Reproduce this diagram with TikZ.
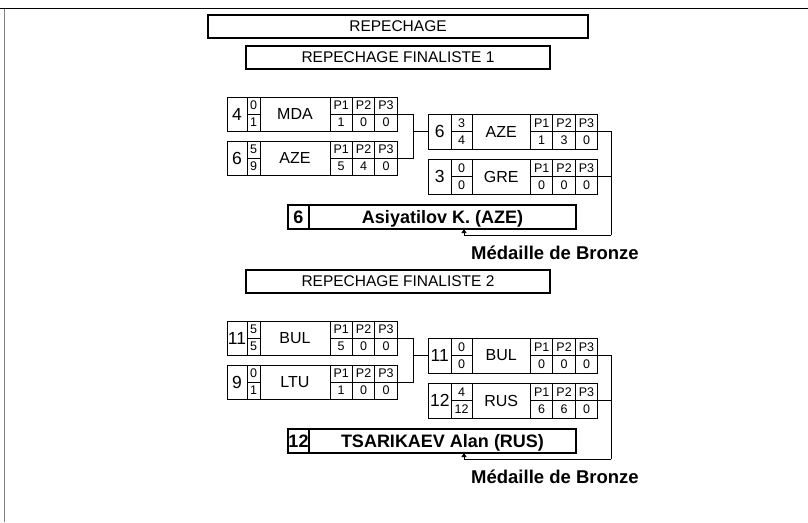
\documentclass[tikz,border=0pt]{standalone}
\usepackage{fontspec}
\setmainfont{Liberation Sans}
\usetikzlibrary{arrows.meta}
\tikzset{
  hdr/.style={draw, line width=1.6pt, inner sep=0pt, outer sep=0pt, anchor=north west, font=\fontsize{15.5}{17}\selectfont},
  mbox/.style={draw, line width=0.9pt, inner sep=0pt, outer sep=0pt, anchor=north west},
  cell/.style={line width=0.9pt},
  conn/.style={line width=0.9pt},
  numtxt/.style={inner sep=0pt, font=\fontsize{17.5}{19}\selectfont},
  nattxt/.style={inner sep=0pt, font=\fontsize{16}{18}\selectfont},
  smtxt/.style={inner sep=0pt, font=\fontsize{12.5}{13}\selectfont},
  wintxt/.style={inner sep=0pt, anchor=base, font=\bfseries\fontsize{18}{20}\selectfont},
  medtxt/.style={inner sep=0pt, anchor=base west, font=\bfseries\fontsize{18.5}{20}\selectfont},
  wbox/.style={draw, line width=1.1pt, inner sep=0pt, outer sep=0pt, anchor=north west, minimum height=24pt, minimum width=288pt},
  tip/.style={-{Triangle[length=4pt,width=5pt]}},
}
\newcommand{\drawmatch}[8]{%
  \node[mbox, minimum width=\BW pt, minimum height=\BH pt] (#1) at (#2,#3) {};
  \begin{scope}[shift={(#1.north west)}]
    \pgfmathsetmacro\xa{\NW}
    \pgfmathsetmacro\xb{\NW+\SW}
    \pgfmathsetmacro\xc{\BW-67.2}
    \pgfmathsetmacro\xd{\xc+22.4}
    \pgfmathsetmacro\xe{\xc+44.8}
    \pgfmathsetmacro\hm{\BH/2}
    \pgfmathsetmacro\ha{\BH/4}
    \pgfmathsetmacro\hb{3*\BH/4}
    \pgfmathsetmacro\ca{\NW/2}
    \pgfmathsetmacro\cb{\NW+\SW/2}
    \pgfmathsetmacro\cc{(\xb+\xc)/2}
    \draw[cell] (\xa,0) -- (\xa,\BH) (\xb,0) -- (\xb,\BH) (\xc,0) -- (\xc,\BH)
      (\xd,0) -- (\xd,\BH) (\xe,0) -- (\xe,\BH)
      (\xa,\hm) -- (\xb,\hm) (\xc,\hm) -- (\BW,\hm);
    \node[numtxt] at (\ca,\hm) {#4};
    \node[smtxt] at (\cb,\ha) {#5};
    \node[smtxt] at (\cb,\hb) {#6};
    \node[nattxt] at (\cc,\hm) {#7};
    \foreach \v [count=\i] in {#8} {
      \pgfmathsetmacro\px{\xc+22.4*\i-11.2}
      \node[smtxt] at (\px,\ha) {P\i};
      \node[smtxt] at (\px,\hb) {\v};
    }
  \end{scope}}
\begin{document}
\begin{tikzpicture}[x=1pt,y=-1pt]
\useasboundingbox (0,0) rectangle (808,522);
\fill[white] (0,0) rectangle (808,522);
\draw[line width=1.5pt] (0,8.5) -- (808,8.5);
\draw[gray, line width=1.5pt] (4.5,8.5) -- (4.5,522);

\node[hdr, minimum width=380pt, minimum height=23pt] (h0) at (208,15) {REPECHAGE};
\node[hdr, minimum width=304pt, minimum height=23pt] (h1) at (246,46) {REPECHAGE FINALISTE 1};
\node[hdr, minimum width=304pt, minimum height=23pt] (h2) at (246,270) {REPECHAGE FINALISTE 2};

% ---------- group 1
\def\NW{20}\def\SW{13}\def\BW{170.2}\def\BH{34}
\drawmatch{La1}{227}{97}{4}{0}{1}{MDA}{1,0,0}
\drawmatch{Lb1}{227}{141}{6}{5}{9}{AZE}{5,4,0}
\def\NW{22.5}\def\SW{21}\def\BW{169.2}\def\BH{35}
\drawmatch{Ra1}{428.5}{114}{6}{3}{4}{AZE}{1,3,0}
\drawmatch{Rb1}{428.5}{159}{3}{0}{0}{GRE}{0,0,0}

\node[wbox] (W1) at (288,205) {};
\draw[line width=1.1pt] (309,205) -- (309,229);
\node[wintxt] (W1n) at (298.5,223.5) {6};
\node[wintxt] (W1t) at (442.5,223.5) {Asiyatilov K. (AZE)};

\coordinate (J1) at (413,131.5);
\coordinate (K1) at (611,235);
\coordinate (A1) at (464,235);
\draw[conn] (La1.east) -| (J1);
\draw[conn] (Lb1.east) -| (J1);
\draw[conn] (J1) -- (Ra1.west);
\draw[conn] (Ra1.east) -| (K1);
\draw[conn] (Rb1.east) -| (K1);
\draw[conn] (K1) -- (A1);
\draw[conn, tip] (A1) -- (A1 |- W1.south);
\node[medtxt] (M1) at (471,259.5) {Médaille de Bronze};

% ---------- group 2
\def\NW{20}\def\SW{13}\def\BW{170.2}\def\BH{34}
\drawmatch{La2}{227}{321}{11}{5}{5}{BUL}{5,0,0}
\drawmatch{Lb2}{227}{365}{9}{0}{1}{LTU}{1,0,0}
\def\NW{22.5}\def\SW{21}\def\BW{169.2}\def\BH{35}
\drawmatch{Ra2}{428.5}{338}{11}{0}{0}{BUL}{0,0,0}
\drawmatch{Rb2}{428.5}{383}{12}{4}{12}{RUS}{6,6,0}

\node[wbox] (W2) at (288,429) {};
\draw[line width=1.1pt] (309,429) -- (309,453);
\node[wintxt] (W2n) at (298.5,447.5) {12};
\node[wintxt] (W2t) at (442.5,447.5) {TSARIKAEV Alan (RUS)};

\coordinate (J2) at (413,355.5);
\coordinate (K2) at (611,459);
\coordinate (A2) at (464,459);
\draw[conn] (La2.east) -| (J2);
\draw[conn] (Lb2.east) -| (J2);
\draw[conn] (J2) -- (Ra2.west);
\draw[conn] (Ra2.east) -| (K2);
\draw[conn] (Rb2.east) -| (K2);
\draw[conn] (K2) -- (A2);
\draw[conn, tip] (A2) -- (A2 |- W2.south);
\node[medtxt] (M2) at (471,483.5) {Médaille de Bronze};
\end{tikzpicture}
\end{document}
